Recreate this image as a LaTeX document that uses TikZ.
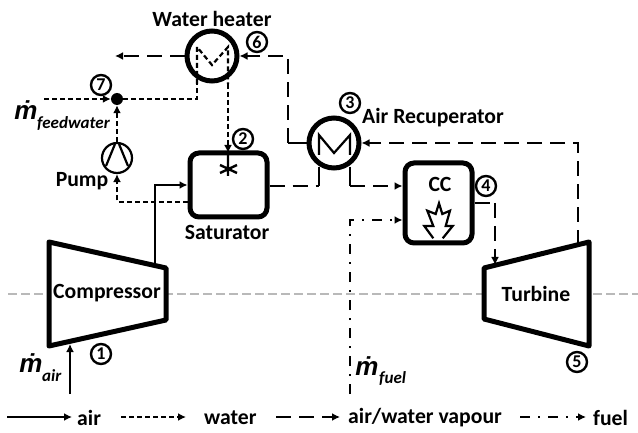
\documentclass[tikz,border=0pt]{standalone}
\usepackage{fontspec}
\setmainfont{Carlito}
\newfontfamily\mfont{Liberation Sans}
\usetikzlibrary{arrows.meta}
\tikzset{
  x=1pt,y=-1pt,
  tip/.style={-{Latex[length=8pt,width=8pt]}},
  air/.style={line width=2.2pt,tip},
  water/.style={line width=2.2pt,dash pattern=on 5pt off 3pt,tip},
  vapour/.style={line width=2.2pt,dash pattern=on 15pt off 8pt,tip},
  vapourline/.style={line width=2.2pt,dash pattern=on 15pt off 8pt},
  fuelflow/.style={line width=2.2pt,dash pattern=on 10pt off 8pt on 2pt off 8pt,tip},
  hx/.style={circle,draw,line width=5pt,fill=white,minimum size=50pt,inner sep=0pt},
  unit/.style={draw,rounded corners=9pt,line width=5pt,fill=white,inner sep=0pt},
  machine/.style={draw,line width=5pt,fill=white,line join=round},
  num/.style={circle,draw,line width=2.4pt,minimum size=20pt,inner sep=0pt,font=\bfseries\fontsize{18}{18}\selectfont},
  lab/.style={font=\bfseries\fontsize{21.7}{22}\selectfont,inner sep=0pt},
  mdot/.style={font=\mfont\bfseries\itshape\fontsize{26}{26}\selectfont,inner sep=0pt},
  msub/.style={font=\bfseries\itshape\fontsize{17}{17}\selectfont,inner sep=0pt},
}
\begin{document}
\begin{tikzpicture}
\useasboundingbox (0,0) rectangle (638,433);
\draw[gray!55,line width=2.4pt,dash pattern=on 9pt off 4pt] (8,294) -- (638,294);
% fuel first, crossing grey
\coordinate (fuelin) at (350,394);
\coordinate (fuelbend) at (350,220);
% machines
\coordinate (c1) at (49,242); \coordinate (c2) at (166,268); \coordinate (c3) at (166,320); \coordinate (c4) at (49,346);
\draw[machine] (c1) -- (c2) -- (c3) -- (c4) -- cycle;
\coordinate (t1) at (484,268); \coordinate (t2) at (589,242); \coordinate (t3) at (589,346); \coordinate (t4) at (484,319);
\draw[machine] (t1) -- (t2) -- (t3) -- (t4) -- cycle;
\node[lab] (complab) at (107,293) {Compressor};
\node[lab] (turblab) at (536,294) {Turbine};
% units
\node[hx] (wh) at (212,56) {};
\node[hx] (rec) at (334,143) {};
\node[unit,minimum width=77pt,minimum height=64pt] (sat) at (228.5,185) {};
\node[unit,minimum width=67pt,minimum height=80pt] (cc) at (438.5,203) {};
\node[circle,draw,line width=2.2pt,minimum size=30pt,inner sep=0pt,fill=white] (pump) at (117,158) {};
\node[circle,fill=black,minimum size=12pt,inner sep=0pt] (junc) at (117,99) {};
% inner coils
\draw[line width=2.2pt,dash pattern=on 5pt off 3pt] (197,84) -- (197,47) -- (212,65) -- (228,47) -- (228,84);
\draw[line width=2.2pt,line join=miter] (319,155) -- (319,135) -- (334,153) -- (350,135) -- (350,155);
% pump blades
\draw[line width=2.2pt] (106,166) -- (115,144);
\draw[line width=2.2pt] (128,166) -- (119,144);
% flame
\draw[line width=2.2pt,line join=miter] (433.3,238.3) -- (424.3,226) -- (433.3,226) -- (427.3,210.7) -- (435.7,214) -- (439,203.3) -- (442.3,214) -- (450,210.7) -- (445.7,226) -- (452.7,226) -- (442.7,238.3);
% spray
\draw[line width=2.4pt] (228,155) -- (228,176) (220,165) -- (237,173) (220,173) -- (237,165);
% coordinates
\coordinate (whout) at (115,56);
\coordinate (split) at (288,56);
\coordinate (recw) at (288,143);
\coordinate (feed) at (44,99);
\coordinate (jh) at (197,99);
\coordinate (satw) at (117,202);
\coordinate (compout) at (155,265);
\coordinate (compbend) at (155,185);
\coordinate (turbout) at (578,245);
\coordinate (turbbend) at (578,143);
\coordinate (ccr) at (495,203);
\coordinate (turbin) at (495,265);
\coordinate (airin) at (70,394);
\coordinate (compin) at (70,344);
\coordinate (r1) at (319,186);
\coordinate (r2) at (350,186);
% connectors
\draw[vapour] (wh.west) -- (whout);
\draw[vapour] (recw) -- (split) -- (wh.east);
\draw[line width=2.2pt] (recw) -- (rec.west);
\draw[water] (feed) -- (junc.west);
\draw[water,-] (junc.east) -- (jh) -- (197,84);
\draw[water] (228,84) -- (228,153);
\draw[water] (pump.north) -- (junc.south);
\draw[water] (sat.west |- satw) -- (satw) -- (pump.south);
\draw[air] (compout) -- (compbend) -- (sat.west |- compbend);
\draw[vapourline] (sat.east |- r1) -- (r1);
\draw[line width=2.2pt] (319,167) -- (r1);
\draw[line width=2.2pt] (350,167) -- (r2);
\draw[vapour] (r2) -- (cc.west |- r2);
\draw[vapour] (turbout) -- (turbbend) -- (rec.east);
\draw[vapourline] (cc.east |- ccr) -- (ccr);
\draw[vapour] (ccr) -- (turbin);
\draw[fuelflow] (fuelin) -- (fuelbend) -- (cc.west |- fuelbend);
\draw[air] (airin) -- (compin);
% numbers
\node[num] (n1) at (101,354) {1};
\node[num] (n2) at (243,139) {2};
\node[num] (n3) at (350,103) {3};
\node[num] (n4) at (486,186) {4};
\node[num] (n5) at (577,362) {5};
\node[num] (n6) at (257,42) {6};
\node[num] (n7) at (101,85) {7};
% labels
\node[lab] (lwh) at (212,19) {Water heater};
\node[lab] (lrec) at (433,118) {Air Recuperator};
\node[lab] (lsat) at (227,232) {Saturator};
\node[lab] (lpump) at (82,181) {Pump};
\node[lab] (lcc) at (440,184) {CC};
\node[mdot] (m1) at (26,110) {ṁ};
\node[msub,anchor=west] (s1) at (37,124) {feedwater};
\node[mdot] (m2) at (31,363) {ṁ};
\node[msub,anchor=west] (s2) at (42,376) {air};
\node[mdot] (m3) at (367,366) {ṁ};
\node[msub,anchor=west] (s3) at (379,379) {fuel};
% legend
\coordinate (a1) at (7,417); \coordinate (a2) at (72,417);
\coordinate (b1) at (121,417); \coordinate (b2) at (186,417);
\coordinate (d1) at (276,417); \coordinate (d2) at (340,417);
\coordinate (e1) at (520,417); \coordinate (e2) at (586,417);
\draw[air] (a1) -- (a2);
\draw[water] (b1) -- (b2);
\draw[vapour] (d1) -- (d2);
\draw[fuelflow] (e1) -- (e2);
\node[lab,anchor=west] (la) at (77,418) {air};
\node[lab,anchor=west] (lb) at (204,418) {water};
\node[lab,anchor=west] (lc) at (348,418) {air/water vapour};
\node[lab,anchor=west] (ld) at (593,418) {fuel};
\end{tikzpicture}
\end{document}
